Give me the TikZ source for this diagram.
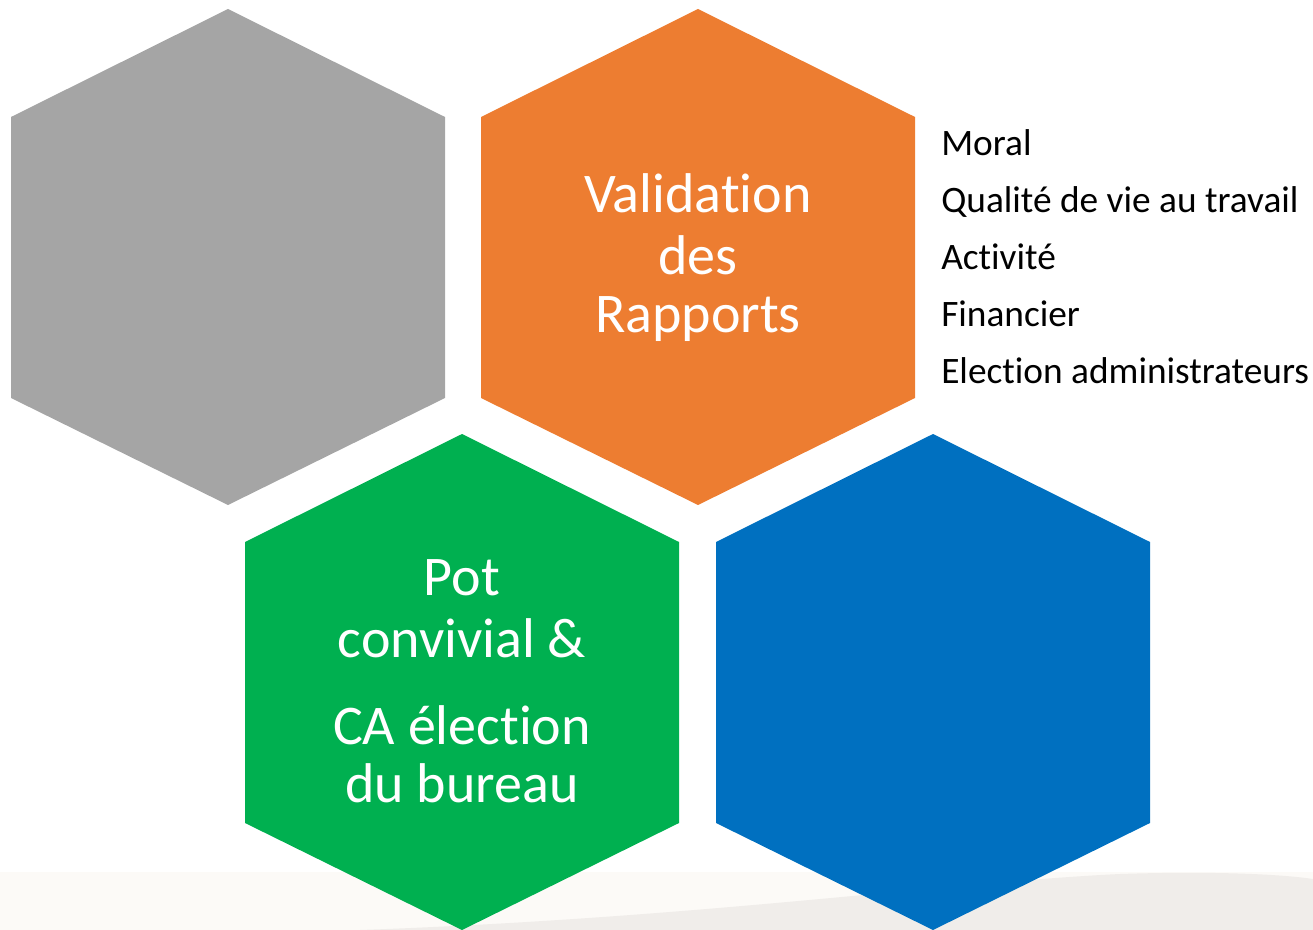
\documentclass[tikz,border=0pt]{standalone}
\usepackage{fontspec}
\setmainfont{Carlito}[RawFeature=-liga]
\definecolor{hexgray}{HTML}{A5A5A5}
\definecolor{hexorange}{HTML}{ED7D31}
\definecolor{hexgreen}{HTML}{00B050}
\definecolor{hexblue}{HTML}{0070C0}
\definecolor{bandcolor}{HTML}{FCFAF7}
\definecolor{swooshcolor}{HTML}{F0EDEA}
\begin{document}
\begin{tikzpicture}
[x=0.75pt,y=-0.75pt,
  hextext/.style={text=white,font=\fontsize{42}{46}\selectfont,anchor=base,inner sep=0pt},%
  listtext/.style={text=black,font=\fontsize{28}{32}\selectfont,anchor=base west,inner sep=0pt}]
\useasboundingbox (0,0) rectangle (1313,930);
%% background band at the bottom
\fill[bandcolor] (0,872) rectangle (1313,930);
\fill[swooshcolor] (360,930) .. controls (700,918) and (950,882) .. (1120,874)
  .. controls (1210,871) and (1280,874) .. (1313,879) -- (1313,930) -- cycle;
%% hexagons
\foreach \hexname/\cx/\cy/\hexcolor in {gray/228/257/hexgray, orange/698/257/hexorange,
    green/462/682/hexgreen, blue/933/682/hexblue} {
  \fill[\hexcolor] (\cx,\cy-248) -- (\cx+217,\cy-140) -- (\cx+217,\cy+141)
    -- (\cx,\cy+248) -- (\cx-217,\cy+141) -- (\cx-217,\cy-140) -- cycle;
  \coordinate (\hexname) at (\cx,\cy);
}
%% texts in the hexagons
\foreach \linename/\y/\linetext in {val/213/Validation, des/275/des, rap/333/Rapports} {
  \node (\linename) at (698,\y) [hextext] {\linetext};
}
\foreach \linename/\y/\linetext in {pot/595/Pot, conv/657/convivial \&, ca/744/CA élection,
    bur/802/du bureau} {
  \node (\linename) at (462,\y) [hextext] {\linetext};
}
%% list of reports
\foreach \itemname/\y/\itemtext in {moral/156/Moral, qvt/213/Qualité de vie au travail,
    act/270/Activité, fin/327/Financier, elec/383/Election administrateurs} {
  \node (\itemname) at (941,\y) [listtext] {\itemtext};
}
\end{tikzpicture}
\end{document}
